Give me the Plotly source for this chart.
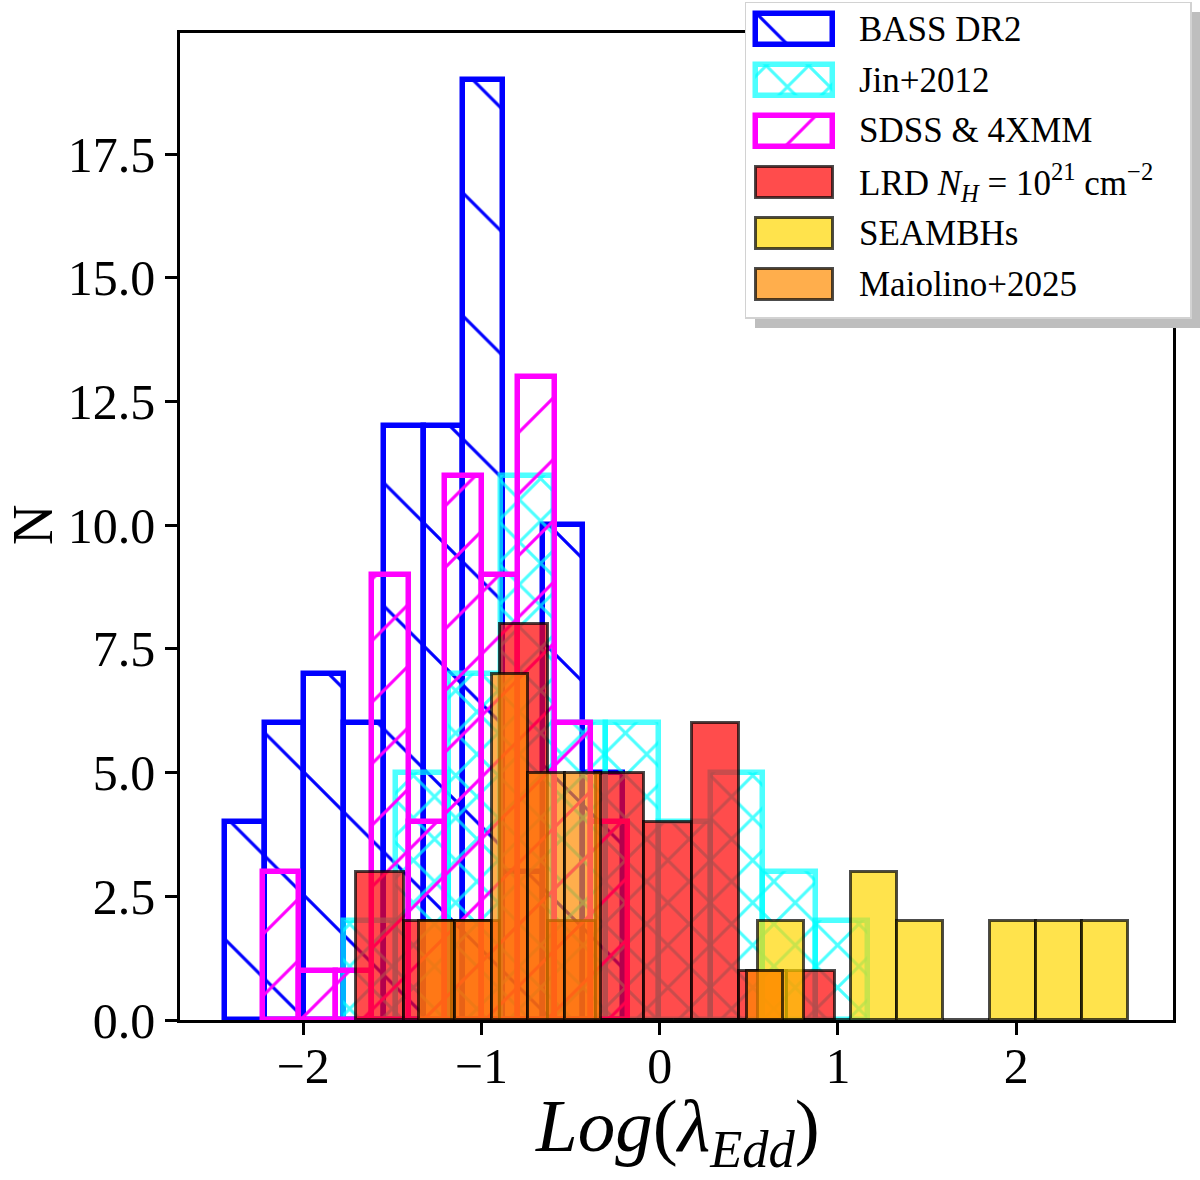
import numpy as np
import plotly.graph_objects as go

# ---------------- data (histogram counts) ----------------
bass_start, bass_width = -2.440, 0.2232
bass_counts = [4, 6, 7, 6, 12, 12, 19, 3, 10, 5]

jin_start, jin_width = -1.772, 0.2943
jin_counts = [2, 5, 7, 11, 6, 6, 4, 5, 3, 2]

sdss_start, sdss_width = -2.226, 0.2046
sdss_counts = [3, 1, 1, 9, 4, 11, 9, 13, 6, 4]

lrd_start, lrd_width = -1.705, 0.2691
lrd_counts = [3, 2, 2, 8, 2, 5, 4, 6, 1, 1]

seam_start, seam_width = 0.553, 0.2595
seam_counts = [2, 0, 3, 2, 0, 2, 2, 2]

maio_start, maio_width = -1.352, 0.2046
maio_counts = [2, 2, 7, 5, 5, 0, 0, 0, 0, 1]

x_ticks = [-2, -1, 0, 1, 2]
y_ticks = [0, 2.5, 5, 7.5, 10, 12.5, 15, 17.5]

labels = ["BASS DR2", "Jin+2012", "SDSS &amp; 4XMM",
          "LRD <i>N</i><sub><i>H</i></sub> = 10<sup>21</sup> cm<sup>\u22122</sup>",
          "SEAMBHs", "Maiolino+2025"]

# ---------------- styles ----------------
W, H = 1200, 1180
FONT = "Liberation Serif"
CLEAR = "rgba(0,0,0,0)"
EDGE_DARK = "rgba(0,0,0,0.7)"

styles = [
    dict(color=CLEAR, line=dict(color="rgb(0,0,255)", width=5.5),
         pattern=dict(shape="\\", size=87, solidity=0.036, fgcolor="rgb(0,0,255)",
                      fgopacity=1, fillmode="overlay", bgcolor=CLEAR)),
    dict(color=CLEAR, line=dict(color="rgba(0,255,255,0.7)", width=5.5),
         pattern=dict(shape="x", size=30, solidity=0.19, fgcolor="rgba(0,255,255,0.7)",
                      fgopacity=1, fillmode="overlay", bgcolor=CLEAR)),
    dict(color=CLEAR, line=dict(color="rgb(255,0,255)", width=5.5),
         pattern=dict(shape="/", size=43.5, solidity=0.07, fgcolor="rgb(255,0,255)",
                      fgopacity=1, fillmode="overlay", bgcolor=CLEAR)),
    dict(color="rgba(255,0,0,0.7)", line=dict(color=EDGE_DARK, width=3)),
    dict(color="rgba(255,215,0,0.7)", line=dict(color=EDGE_DARK, width=3)),
    dict(color="rgba(255,140,0,0.7)", line=dict(color=EDGE_DARK, width=3)),
]

series = [
    (bass_start, bass_width, bass_counts),
    (jin_start, jin_width, jin_counts),
    (sdss_start, sdss_width, sdss_counts),
    (lrd_start, lrd_width, lrd_counts),
    (seam_start, seam_width, seam_counts),
    (maio_start, maio_width, maio_counts),
]

fig = go.Figure()
for (start, width, counts), st, name in zip(series, styles, labels):
    n = len(counts)
    centers = start + width * (np.arange(n) + 0.5)
    fig.add_trace(go.Bar(x=centers, y=counts, width=[width] * n, base=0,
                         marker=st, name=name, showlegend=False,
                         xaxis="x", yaxis="y"))

# ---------------- custom legend (own helper axes in pixel units) ----------------
LX0, LX1, LY0, LY1 = 745, 1200, 2, 328      # area incl. shadow
row0, drow = 29, 51
sym_x, sym_len, sym_h = 756, 77, 31
for i, st in enumerate(styles):
    fig.add_trace(go.Bar(y=[row0 + drow * i], x=[sym_len], base=sym_x, width=sym_h,
                         orientation="h", marker=st, showlegend=False,
                         hoverinfo="skip", xaxis="x3", yaxis="y3"))

shapes = [
    dict(type="rect", xref="x3", yref="y3", x0=755, x1=1200, y0=12, y1=328,
         fillcolor="rgb(190,190,190)", line=dict(width=0), layer="below"),
    dict(type="rect", xref="x3", yref="y3", x0=745, x1=1191, y0=2, y1=318,
         fillcolor="white", line=dict(color="rgb(210,210,210)", width=2), layer="below"),
]

annotations = []
for i, lab in enumerate(labels):
    annotations.append(dict(x=857 / W, y=1 - (row0 + drow * i) / H, xref="paper", yref="paper",
                            text=lab, showarrow=False, xanchor="left", yanchor="middle",
                            font=dict(family=FONT, size=35, color="black")))
# axis titles
annotations.append(dict(x=677 / W, y=0, xref="paper", yref="paper",
                        text="<i>Log</i>(<i>\u03bb</i><sub><i>Edd</i></sub>)", showarrow=False,
                        xanchor="center", yanchor="bottom",
                        font=dict(family=FONT, size=75, color="black")))
annotations.append(dict(x=33 / W, y=1 - 525 / H, xref="paper", yref="paper",
                        text="N", showarrow=False, textangle=-90,
                        xanchor="center", yanchor="middle",
                        font=dict(family=FONT, size=56, color="black")))

PX0, PX1, PY0, PY1 = 180, 1173, 33, 1020
axis_common = dict(showline=True, linecolor="black", linewidth=2.5, mirror=True,
                   ticks="outside", ticklen=12, tickwidth=2.5, tickcolor="black",
                   showgrid=False, zeroline=False, automargin=False,
                   tickfont=dict(family=FONT, size=50, color="black"))

fig.update_layout(
    width=W, height=H,
    margin=dict(l=0, r=0, t=0, b=0, autoexpand=False),
    paper_bgcolor="white", plot_bgcolor="white",
    barmode="overlay", bargap=0,
    showlegend=False,
    xaxis=dict(domain=[PX0 / W, PX1 / W], range=[-2.691, 2.880],
               tickvals=x_ticks, anchor="y", ticklabelstandoff=-12, **axis_common),
    yaxis=dict(domain=[1 - PY1 / H, 1 - PY0 / H], range=[0, 19.95],
               tickvals=y_ticks, tickformat=".1f", anchor="x", **axis_common),
    xaxis3=dict(domain=[LX0 / W, LX1 / W], range=[LX0, LX1], visible=False,
                anchor="y3", fixedrange=True, automargin=False),
    yaxis3=dict(domain=[1 - LY1 / H, 1 - LY0 / H], range=[LY1, LY0], visible=False,
                anchor="x3", fixedrange=True, automargin=False),
    shapes=shapes,
    annotations=annotations,
)

fig.write_html("out.html")
